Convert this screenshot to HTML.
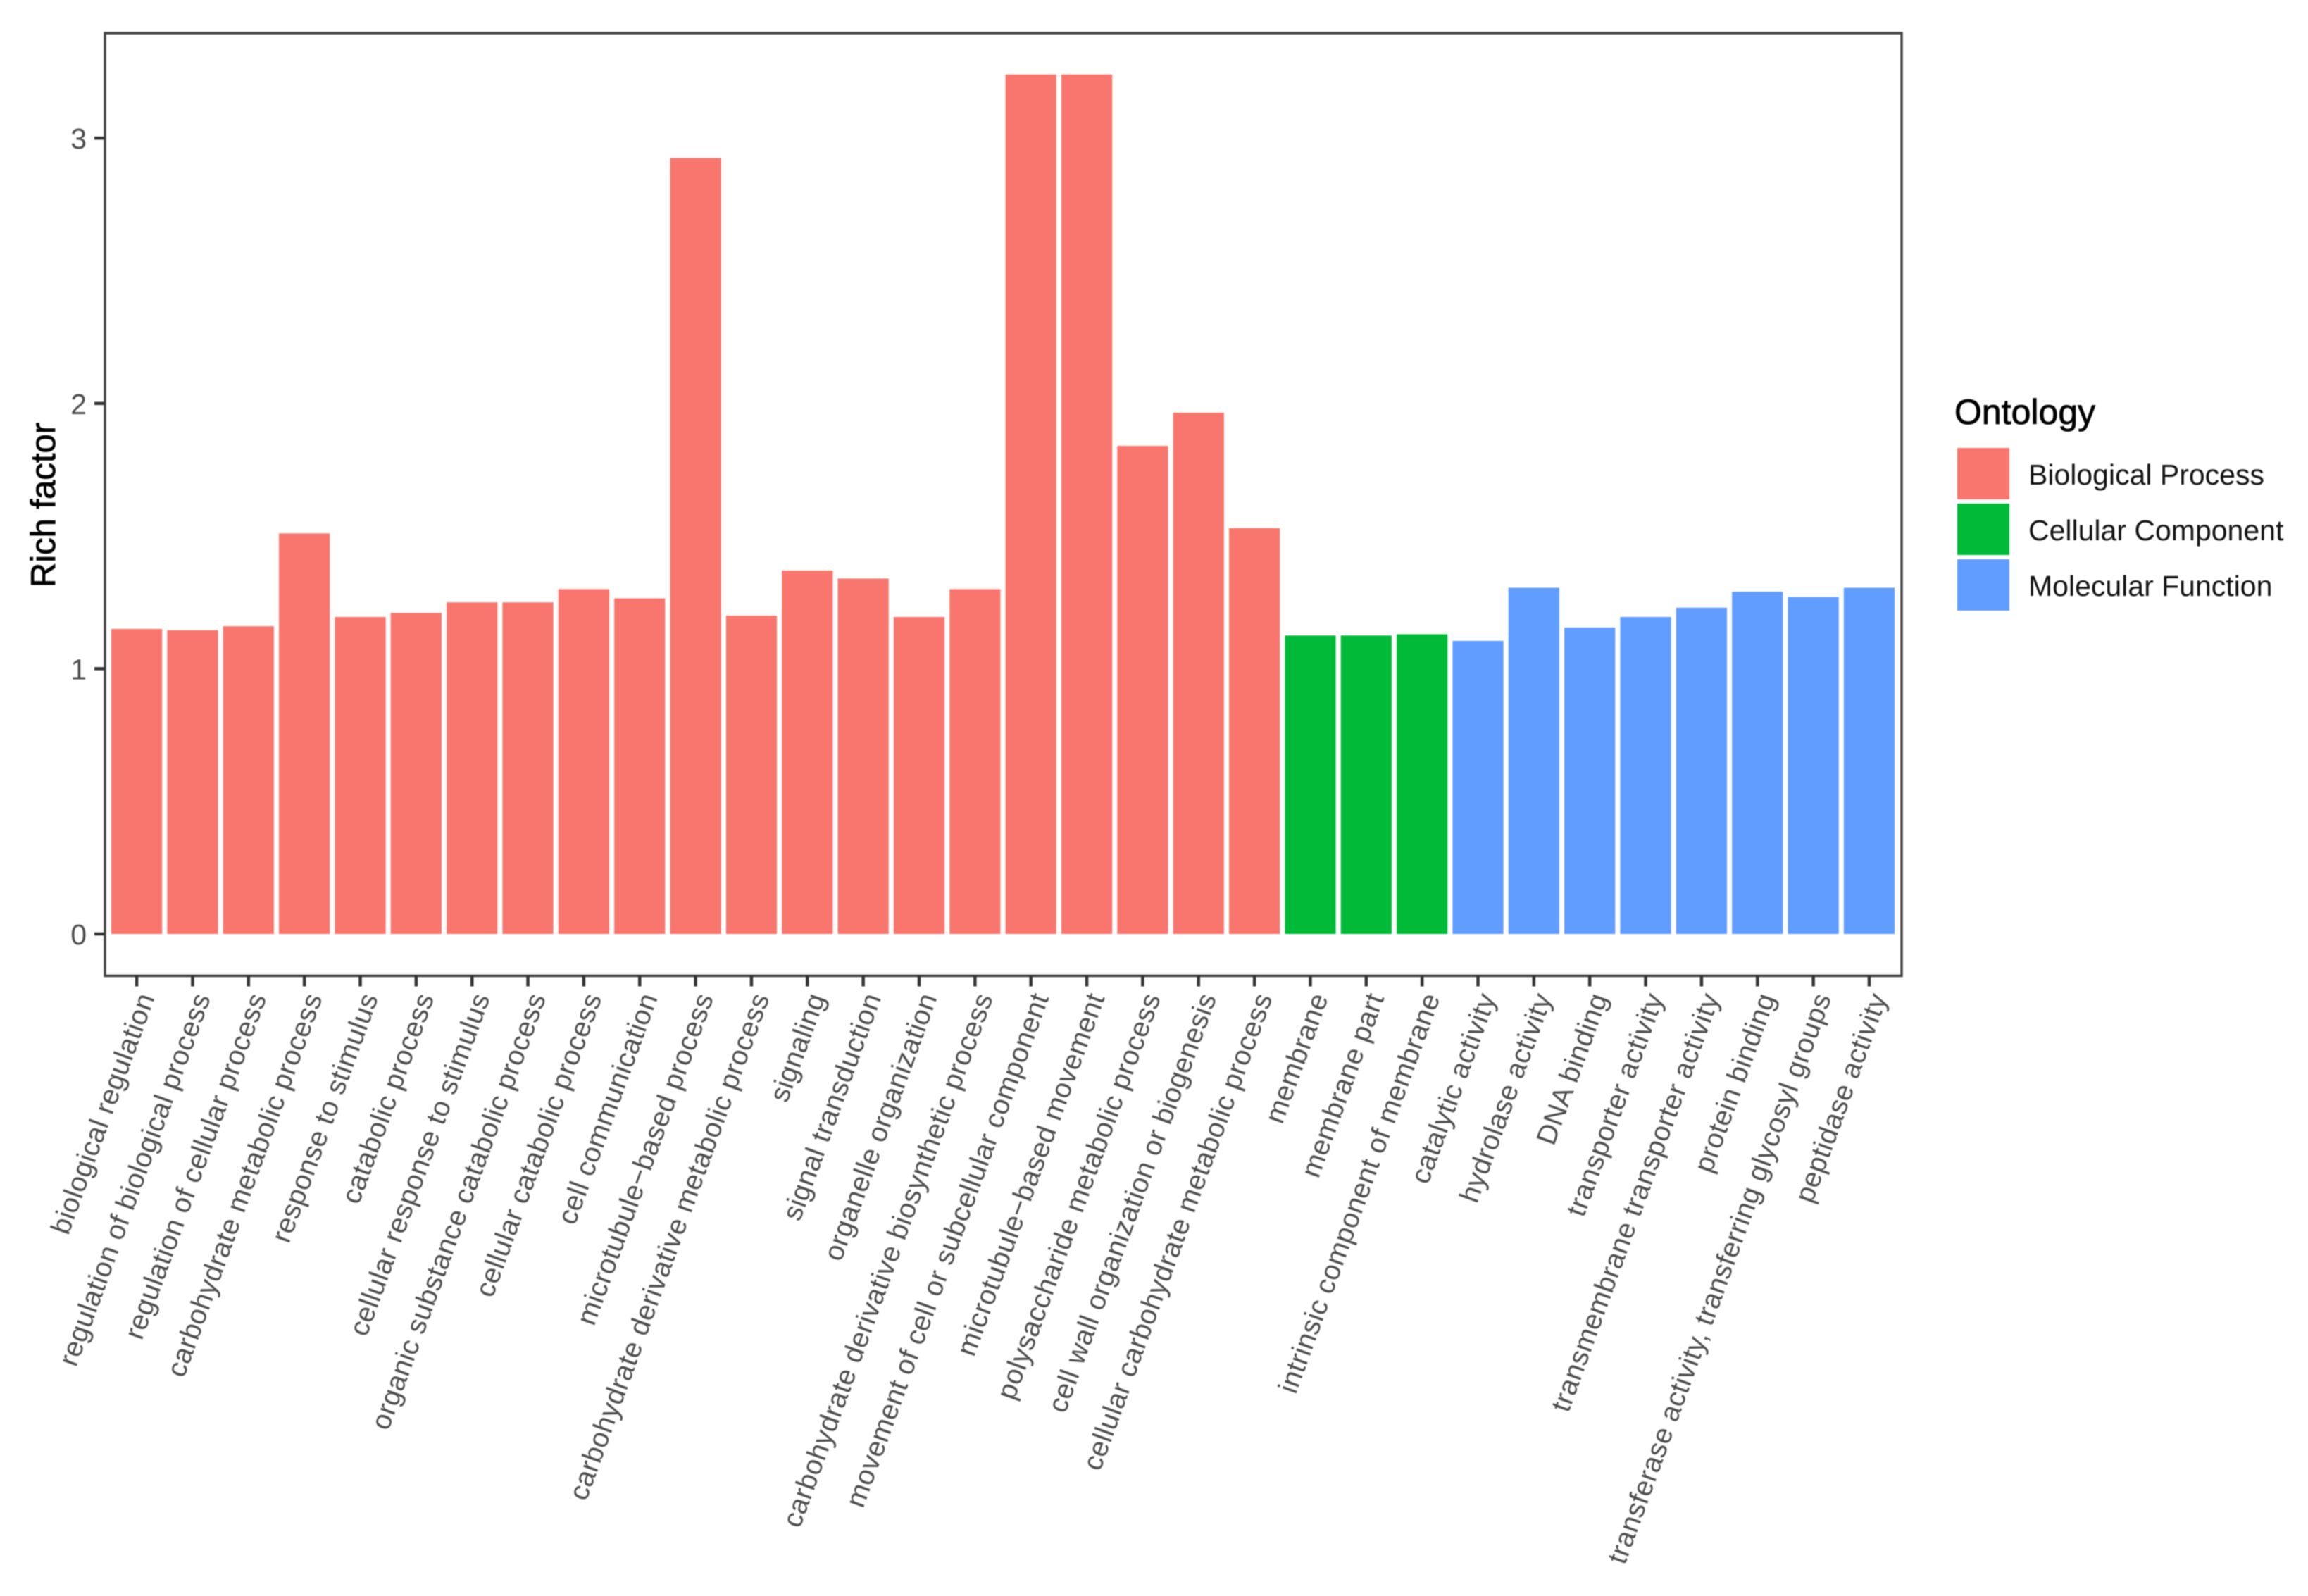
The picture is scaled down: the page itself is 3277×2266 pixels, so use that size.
<!DOCTYPE html>
<html lang="en">
<head>
<meta charset="utf-8">
<title>Rich factor by GO term</title>
<style>
html,body{margin:0;padding:0;background:#fff;}
svg{display:block;font-family:"Liberation Sans",Arial,sans-serif;filter:blur(0.7px);}
</style>
</head>
<body>
<svg id="chart" xmlns="http://www.w3.org/2000/svg" width="3277" height="2266" viewBox="0 0 3277 2266">
<rect x="0" y="0" width="3277" height="2266" fill="#ffffff"/>
<g id="bars"></g>
<rect x="149" y="47" width="2551" height="1338.5" fill="none" stroke="#444444" stroke-width="3.5"/>
<g id="y-axis"></g>
<g id="x-axis"></g>
<text transform="translate(78,717) rotate(-90)" text-anchor="middle" font-size="49" fill="#000000" stroke="#000000" stroke-width="0.8">Rich factor</text>
<g id="legend">
<text x="2775" y="602" font-size="50" fill="#000000" stroke="#000000" stroke-width="0.8">Ontology</text>
</g>
</svg>
<script>
const categories = [
  "biological regulation","regulation of biological process","regulation of cellular process",
  "carbohydrate metabolic process","response to stimulus","catabolic process",
  "cellular response to stimulus","organic substance catabolic process","cellular catabolic process",
  "cell communication","microtubule−based process","carbohydrate derivative metabolic process",
  "signaling","signal transduction","organelle organization",
  "carbohydrate derivative biosynthetic process","movement of cell or subcellular component",
  "microtubule−based movement","polysaccharide metabolic process","cell wall organization or biogenesis",
  "cellular carbohydrate metabolic process","membrane","membrane part","intrinsic component of membrane",
  "catalytic activity","hydrolase activity","DNA binding","transporter activity",
  "transmembrane transporter activity","protein binding","transferase activity, transferring glycosyl groups",
  "peptidase activity"
];
const richFactor = [
  1.15,1.145,1.16,1.51,1.195,1.21,1.25,1.25,1.30,1.265,2.925,1.20,1.37,1.34,1.195,1.30,3.24,3.24,1.84,1.965,1.53,
  1.125,1.125,1.13,
  1.105,1.305,1.155,1.195,1.23,1.29,1.27,1.305
];
const ontologyOfBar = [
  "Biological Process","Biological Process","Biological Process","Biological Process","Biological Process",
  "Biological Process","Biological Process","Biological Process","Biological Process","Biological Process",
  "Biological Process","Biological Process","Biological Process","Biological Process","Biological Process",
  "Biological Process","Biological Process","Biological Process","Biological Process","Biological Process",
  "Biological Process","Cellular Component","Cellular Component","Cellular Component",
  "Molecular Function","Molecular Function","Molecular Function","Molecular Function","Molecular Function",
  "Molecular Function","Molecular Function","Molecular Function"
];
const yTickValues = [0,1,2,3];
const legendLabels = ["Biological Process","Cellular Component","Molecular Function"];
const legendColors = ["#F8766D","#00BA38","#619CFF"];

const NS = "http://www.w3.org/2000/svg";
const plot = {y0:1326, unit:376.6, x1:194.1, step:79.35, barFrac:0.91};
function yScale(v){ return plot.y0 - v*plot.unit; }
function xScale(i){ return plot.x1 + i*plot.step; }
function colorFor(name){ return legendColors[legendLabels.indexOf(name)]; }
function make(tag, attrs, parent, text){
  const el = document.createElementNS(NS, tag);
  for (const k in attrs) el.setAttribute(k, attrs[k]);
  if (text !== undefined) el.textContent = text;
  parent.appendChild(el);
  return el;
}
function slug(s){ return s.toLowerCase().replace(/[^a-z0-9]+/g,'-').replace(/^-|-$/g,''); }

const barsG = document.getElementById('bars');
const xG = document.getElementById('x-axis');
const yG = document.getElementById('y-axis');
const legendG = document.getElementById('legend');

categories.forEach(function(cat, i){
  const cx = xScale(i);
  const w = plot.step*plot.barFrac;
  const top = yScale(richFactor[i]);
  const bar = make('rect', {x:cx-w/2, y:top, width:w, height:yScale(0)-top, fill:colorFor(ontologyOfBar[i])}, barsG);
  
  

  const tick = make('line', {x1:cx, x2:cx, y1:1385.5, y2:1400.5, stroke:'#333333', 'stroke-width':4.5}, xG);
  
  

  const label = make('text', {transform:'translate(' + (cx+26) + ',1416) rotate(-70)', 'text-anchor':'end', 'font-size':39.5, 'letter-spacing':0.55, fill:'#4d4d4d'}, xG, cat);
  
  
});

yTickValues.forEach(function(v){
  const y = yScale(v);
  const tick = make('line', {x1:134, x2:149, y1:y, y2:y, stroke:'#333333', 'stroke-width':4.5}, yG);
  
  
  const label = make('text', {x:123, y:y+15, 'text-anchor':'end', 'font-size':41, fill:'#4d4d4d'}, yG, String(v));
  
  
});

legendLabels.forEach(function(name, i){
  const top = 636 + i*79;
  const swatch = make('rect', {x:2779, y:top, width:74, height:73, fill:legendColors[i]}, legendG);
  
  
  const label = make('text', {x:2880, y:top+52, 'font-size':41, fill:'#111111'}, legendG, name);
  
  
});
</script>
</body>
</html>
